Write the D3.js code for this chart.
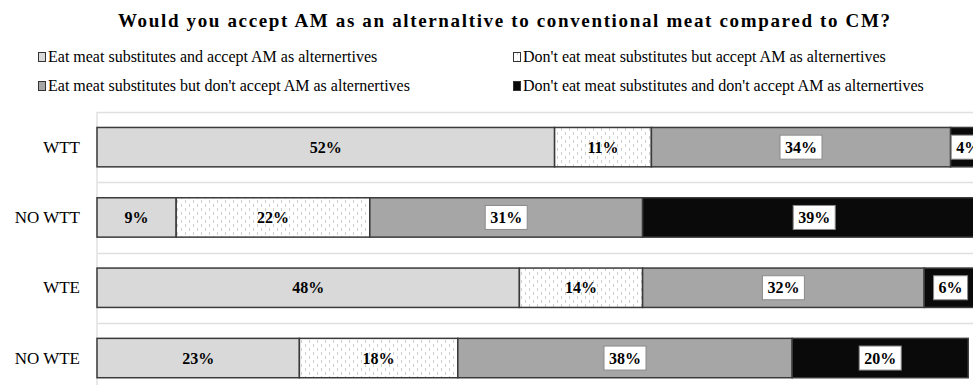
<!DOCTYPE html>
<html>
<head>
<meta charset="utf-8">
<script src="https://cdn.jsdelivr.net/npm/d3@7/dist/d3.min.js"></script>
<style>
  html, body { margin: 0; padding: 0; background: #fff; }
  svg { display: block; }
</style>
</head>
<body>
<svg id="chart" width="973" height="385"></svg>
<script>
// Groups (rows) and the four response series, in percent
const groups = ["WTT", "NO WTT", "WTE", "NO WTE"];
const seriesNames = [
  "Eat meat substitutes and accept AM as alternertives",
  "Don't eat meat substitutes but accept AM as alternertives",
  "Eat meat substitutes but don't accept AM as alternertives",
  "Don't eat meat substitutes and don't accept AM as alternertives"
];
const eatAccept      = [52, 9, 48, 23];
const noEatAccept    = [11, 22, 14, 18];
const eatNoAccept    = [34, 31, 32, 38];
const noEatNoAccept  = [4, 39, 6, 20];
const titleText = "Would you accept AM as an alternaltive to conventional meat compared to CM?";

const seriesValues = [eatAccept, noEatAccept, eatNoAccept, noEatNoAccept];
const fills = ["#d9d9d9", "url(#dots)", "#a6a6a6", "#0a0a0a"];
const boxed = [false, false, true, true];

const svg = d3.select("#chart");
const W = 973;
const serif = "'Liberation Serif', 'Times New Roman', serif";

// dotted pattern for the second series
const defs = svg.append("defs");
const pat = defs.append("pattern")
  .attr("id", "dots").attr("patternUnits", "userSpaceOnUse")
  .attr("width", 8).attr("height", 8);
pat.append("rect").attr("width", 8).attr("height", 8).attr("fill", "#fff");
pat.append("rect").attr("x", 1).attr("y", 0).attr("width", 1).attr("height", 3).attr("fill", "#cfcfcf");
pat.append("rect").attr("x", 5).attr("y", 4).attr("width", 1).attr("height", 3).attr("fill", "#cfcfcf");

// title
svg.append("text")
  .attr("x", 118).attr("y", 27)
  .attr("font-family", serif).attr("font-weight", "bold").attr("font-size", 19)
  .attr("textLength", 772).attr("lengthAdjust", "spacing")
  .attr("fill", "#000")
  .text(titleText);

// legend (two columns, two rows)
const legendPos = [
  { x: 38, y: 57 }, { x: 513, y: 57 },
  { x: 38, y: 86 }, { x: 513, y: 86 }
];
const legend = svg.append("g");
seriesNames.forEach((name, i) => {
  const p = legendPos[i];
  legend.append("rect")
    .attr("x", p.x + 0.5).attr("y", p.y - 4.5)
    .attr("width", 7).attr("height", 9)
    .attr("fill", fills[i]).attr("stroke", "#333").attr("stroke-width", 1);
  legend.append("text")
    .attr("x", p.x + 10).attr("y", p.y + 5)
    .attr("font-family", serif).attr("font-size", 16)
    .attr("fill", "#000")
    .text(name);
});

// scales
const x = d3.scaleLinear().domain([0, 100]).range([97, 977]);
const y = d3.scaleBand().domain(groups).range([112, 393.2])
  .paddingInner(0.44).paddingOuter(0.22);
const step = y.step();

// gridlines at the category boundaries
const grid = svg.append("g");
groups.forEach((g, i) => {
  const yy = Math.round(y.range()[0] + i * step) + 0.5;
  grid.append("line")
    .attr("x1", x(0)).attr("x2", W)
    .attr("y1", yy).attr("y2", yy)
    .attr("stroke", "#e0e0e0").attr("stroke-width", 1.5);
});
svg.append("line")
  .attr("x1", x(0)).attr("x2", x(0))
  .attr("y1", 112).attr("y2", 385)
  .attr("stroke", "#e0e0e0").attr("stroke-width", 1.5);

// category axis labels
const yAxis = d3.axisLeft(y).tickSize(0).tickPadding(17);
const ax = svg.append("g").attr("transform", `translate(${x(0)},0)`).call(yAxis);
ax.select(".domain").remove();
ax.selectAll("text")
  .attr("font-family", serif).attr("font-size", 17).attr("fill", "#000");

// stacked data
const rows = groups.map((g, gi) => {
  let acc = 0;
  return seriesValues.map((vals, si) => {
    const d = { group: g, series: si, value: vals[gi], x0: acc, x1: acc + vals[gi] };
    acc += vals[gi];
    return d;
  });
}).flat();

const bars = svg.append("g");
bars.selectAll("rect").data(rows).join("rect")
  .attr("x", d => x(d.x0))
  .attr("y", d => y(d.group))
  .attr("width", d => x(d.x1) - x(d.x0))
  .attr("height", y.bandwidth())
  .attr("fill", d => fills[d.series])
  .attr("stroke", "#3a3a3a").attr("stroke-width", 1.5);

// value labels
const labels = svg.append("g");
rows.forEach(d => {
  const cx = (x(d.x0) + x(d.x1)) / 2;
  const cy = y(d.group) + y.bandwidth() / 2;
  const txt = d.value + "%";
  const g = labels.append("g");
  const t = g.append("text")
    .attr("x", cx).attr("y", cy + 5.5)
    .attr("text-anchor", "middle")
    .attr("font-family", serif).attr("font-weight", "bold").attr("font-size", 16)
    .attr("fill", "#000")
    .text(txt);
  if (boxed[d.series]) {
    const bb = t.node().getBBox();
    g.insert("rect", "text")
      .attr("x", bb.x - 5).attr("y", cy - 12)
      .attr("width", bb.width + 10).attr("height", 24)
      .attr("fill", "#fff").attr("stroke", "#8a8a8a").attr("stroke-width", 1);
  }
});
</script>
</body>
</html>
